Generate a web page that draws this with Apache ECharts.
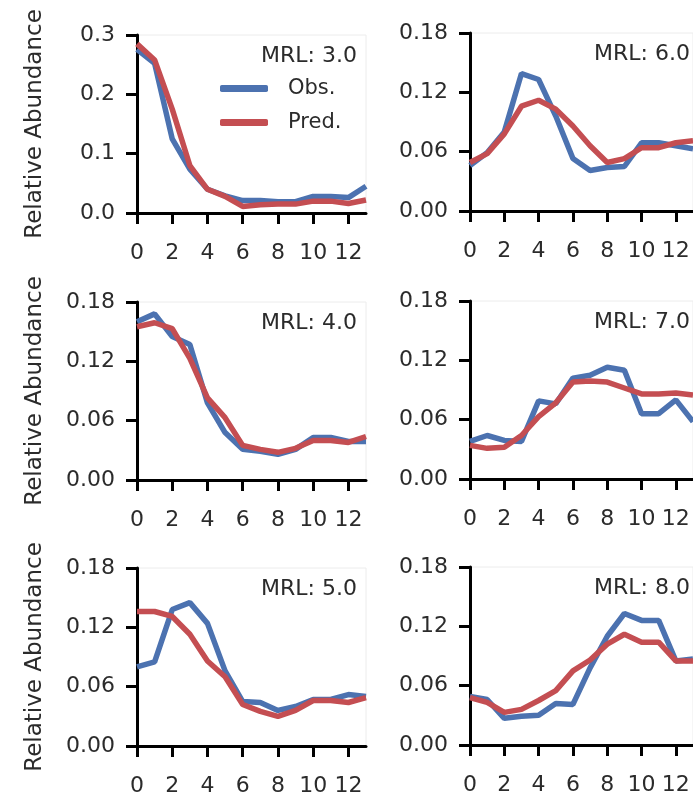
<!DOCTYPE html>
<html>
<head>
<meta charset="utf-8">
<script src="https://cdn.jsdelivr.net/npm/echarts@6/dist/echarts.min.js"></script>
<style>
html,body{margin:0;padding:0;background:#fff;}
#chart{width:693px;height:798px;}
</style>
</head>
<body>
<div id="chart"></div>
<script>
// x positions (length classes)
const xValues = [0,1,2,3,4,5,6,7,8,9,10,11,12,13];
const xTickValues = [0,2,4,6,8,10,12];
const mrlLabels = ['MRL: 3.0','MRL: 6.0','MRL: 4.0','MRL: 7.0','MRL: 5.0','MRL: 8.0'];

const obs3 = [0.276,0.252,0.125,0.074,0.040,0.029,0.021,0.021,0.019,0.019,0.028,0.028,0.026,0.045];
const pred3 = [0.285,0.258,0.175,0.080,0.040,0.028,0.011,0.014,0.015,0.015,0.020,0.020,0.016,0.022];

const obs6 = [0.046,0.059,0.080,0.139,0.133,0.096,0.053,0.041,0.044,0.045,0.069,0.069,0.066,0.063];
const pred6 = [0.049,0.058,0.078,0.106,0.112,0.103,0.086,0.066,0.049,0.053,0.064,0.064,0.069,0.071];

const obs4 = [0.160,0.168,0.145,0.137,0.078,0.048,0.031,0.029,0.026,0.031,0.043,0.043,0.039,0.039];
const pred4 = [0.155,0.159,0.153,0.123,0.083,0.063,0.035,0.031,0.028,0.032,0.040,0.040,0.038,0.044];

const obs7 = [0.038,0.044,0.039,0.038,0.079,0.076,0.102,0.105,0.113,0.110,0.066,0.066,0.080,0.058];
const pred7 = [0.034,0.031,0.032,0.044,0.063,0.077,0.098,0.099,0.098,0.092,0.086,0.086,0.087,0.085];

const obs5 = [0.080,0.085,0.138,0.145,0.124,0.076,0.045,0.044,0.036,0.040,0.047,0.047,0.052,0.050];
const pred5 = [0.136,0.136,0.131,0.113,0.086,0.070,0.042,0.035,0.030,0.036,0.046,0.046,0.044,0.049];

const obs8 = [0.049,0.046,0.027,0.029,0.030,0.042,0.041,0.078,0.110,0.133,0.126,0.126,0.085,0.087];
const pred8 = [0.048,0.043,0.033,0.036,0.045,0.055,0.075,0.086,0.102,0.112,0.104,0.104,0.085,0.085];

const panelObs = [obs3, obs6, obs4, obs7, obs5, obs8];
const panelPred = [pred3, pred6, pred4, pred7, pred5, pred8];
const yMax = [0.3, 0.18, 0.18, 0.18, 0.18, 0.18];
const yInterval = [0.1, 0.06, 0.06, 0.06, 0.06, 0.06];
const yDecimals = [1, 2, 2, 2, 2, 2];

const BLUE = '#4C72B0';
const RED = '#C44E52';
const TXT = '#2b2b2b';
const FONT = 'DejaVu Sans';

// layout
const colLeft = [137, 470];
const colWidth = 229;
const rowTop = [[35, 33], [302, 301], [568, 567]];
const plotH = 178;

const grids = [], xAxes = [], yAxes = [], series = [], titles = [];
for (let i = 0; i < 6; i++) {
  const r = Math.floor(i / 2), c = i % 2;
  const left = colLeft[c], top = rowTop[r][c];
  grids.push({left: left, top: top, width: colWidth, height: plotH,
    show: true, borderColor: '#ececec', borderWidth: 1, backgroundColor: 'transparent'});
  xAxes.push({
    gridIndex: i, type: 'value', min: 0, max: 13,
    axisLine: {show: true, onZero: false, lineStyle: {color: '#000', width: 3}},
    axisTick: {show: true, length: 11, lineStyle: {color: '#000', width: 3}, customValues: xTickValues},
    axisLabel: {color: TXT, fontFamily: FONT, fontSize: 22, margin: 29, customValues: xTickValues},
    splitLine: {show: false}
  });
  const dec = yDecimals[i];
  yAxes.push({
    gridIndex: i, type: 'value', min: 0, max: yMax[i], interval: yInterval[i],
    name: c === 0 ? 'Relative Abundance' : '',
    nameLocation: 'middle', nameGap: 90,
    nameTextStyle: {color: TXT, fontFamily: FONT, fontSize: 23},
    axisLine: {show: true, lineStyle: {color: '#000', width: 3}},
    axisTick: {show: true, length: 11, lineStyle: {color: '#000', width: 3}},
    axisLabel: {color: TXT, fontFamily: FONT, fontSize: 22, margin: 22,
      formatter: v => v.toFixed(dec)},
    splitLine: {show: false}
  });
  series.push({
    name: 'Obs.', type: 'line', xAxisIndex: i, yAxisIndex: i,
    data: xValues.map((x, k) => [x, panelObs[i][k]]),
    showSymbol: false, symbol: 'none',
    lineStyle: {color: BLUE, width: 5.5}, itemStyle: {color: BLUE}, z: 2, animation: false
  });
  series.push({
    name: 'Pred.', type: 'line', xAxisIndex: i, yAxisIndex: i,
    data: xValues.map((x, k) => [x, panelPred[i][k]]),
    showSymbol: false, symbol: 'none',
    lineStyle: {color: RED, width: 5.5}, itemStyle: {color: RED}, z: 3, animation: false
  });
  titles.push({
    text: mrlLabels[i], left: left + 124, top: top + 10, padding: 0,
    textStyle: {color: TXT, fontFamily: FONT, fontSize: 22, fontWeight: 'normal'}
  });
}

const chart = echarts.init(document.getElementById('chart'), null, {renderer: 'canvas'});
chart.setOption({
  animation: false,
  backgroundColor: '#fff',
  title: titles,
  legend: {
    data: ['Obs.', 'Pred.'], orient: 'vertical', left: 220, top: 76, padding: 0,
    itemWidth: 48, itemHeight: 7, itemGap: 9, icon: 'roundRect',
    textStyle: {color: TXT, fontFamily: FONT, fontSize: 21, lineHeight: 25, padding: [0, 0, 0, 15]},
    selectedMode: false
  },
  grid: grids,
  xAxis: xAxes,
  yAxis: yAxes,
  series: series
});
</script>
</body>
</html>
